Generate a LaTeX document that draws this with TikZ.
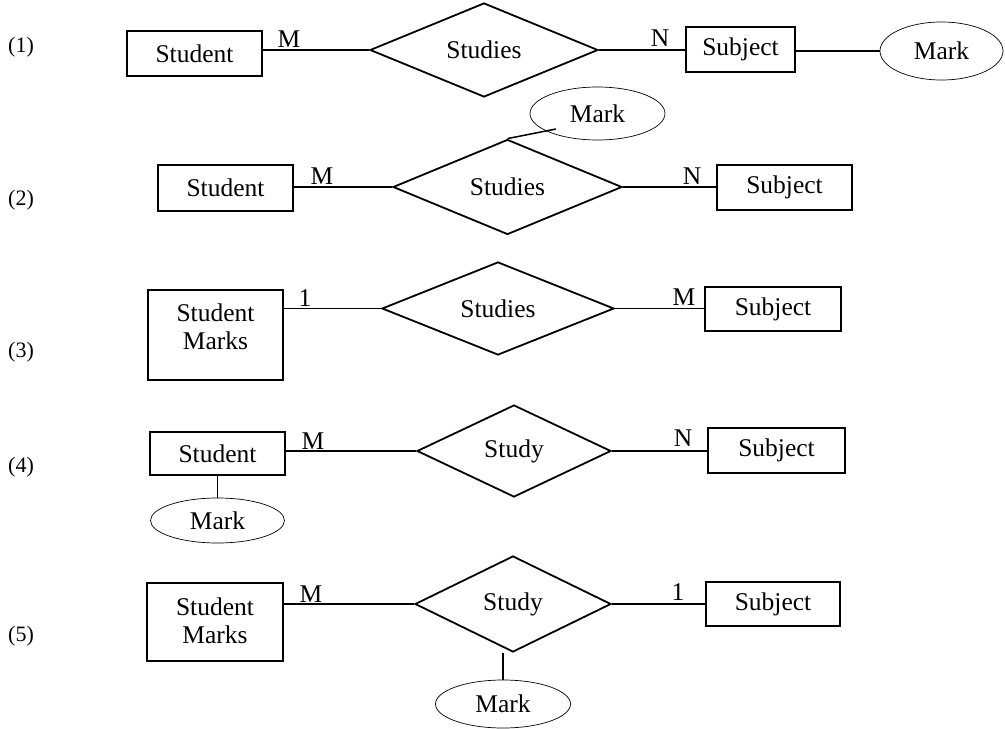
\documentclass[tikz,border=0pt]{standalone}
\usepackage{fontspec}
\setmainfont{Liberation Serif}
\usetikzlibrary{shapes.geometric}
\begin{document}
\begin{tikzpicture}[x=1bp,y=-1bp,
 every node/.style={font=\fontsize{25.5bp}{28bp}\selectfont},
 ent/.style={draw, line width=1.8bp, inner sep=0},
 rel/.style={draw, diamond, line width=1.8bp, inner sep=0},
 attr/.style={draw, ellipse, line width=0.7bp, inner sep=0},
 conn/.style={line width=1.5bp},
 card/.style={inner sep=0},
 num/.style={inner sep=0, font=\fontsize{22bp}{24bp}\selectfont}]
\useasboundingbox (0,0) rectangle (1005,729);

% ---- row 1
\node[num] (n1) at (21,47) {(1)};
\node[ent, minimum width=135bp, minimum height=45bp] (st1) at (194.5,53.5) {Student};
\node[rel, minimum width=228bp, minimum height=94bp] (d1) at (484,50) {Studies};
\node[ent, minimum width=109bp, minimum height=45bp] (su1) at (740.5,49.5) {Subject};
\node[attr, minimum width=123bp, minimum height=58bp] (m1) at (941.5,51) {Mark};
\draw[conn] (st1.east |- d1.west) -- (d1.west);
\draw[conn] (d1.east) -- (su1.west |- d1.east);
\draw[conn] (su1.east |- m1.west) -- (m1.west);
\node[card] (c1a) at (289,39) {M};
\node[card] (c1b) at (660,38) {N};

% ---- row 2
\node[num] (n2) at (21,200) {(2)};
\node[ent, minimum width=135bp, minimum height=46bp] (st2) at (225.5,188) {Student};
\node[rel, minimum width=229bp, minimum height=95bp] (d2) at (507.5,187) {Studies};
\node[ent, minimum width=135bp, minimum height=45bp] (su2) at (784.5,187.5) {Subject};
\node[attr, minimum width=135bp, minimum height=53bp] (m2) at (597.5,113.5) {Mark};
\coordinate (m2a) at (556,129);
\draw[conn] (st2.east |- d2.west) -- (d2.west);
\draw[conn] (d2.east) -- (su2.west |- d2.east);
\draw[conn] (d2.north) -- (m2a);
\node[card] (c2a) at (322,176) {M};
\node[card] (c2b) at (692,176) {N};

% ---- row 3
\node[num] (n3) at (21,352) {(3)};
\node[ent, minimum width=135bp, minimum height=90bp] (e3) at (215.5,335) {};
\node[align=center, inner sep=0] (e3t) at (215.5,327) {Student\\Marks};
\node[rel, minimum width=232bp, minimum height=91bp] (d3) at (498,308.5) {Studies};
\node[ent, minimum width=136bp, minimum height=44bp] (su3) at (773,309) {Subject};
\draw[conn] (e3.east |- d3.west) -- (d3.west);
\draw[conn] (d3.east) -- (su3.west |- d3.east);
\node[card] (c3a) at (305,298) {1};
\node[card] (c3b) at (684,297) {M};

% ---- row 4
\node[num] (n4) at (21,467) {(4)};
\node[ent, minimum width=135bp, minimum height=43bp] (st4) at (217.5,453.5) {Student};
\node[rel, minimum width=194bp, minimum height=92bp] (d4) at (514,451) {Study};
\node[ent, minimum width=137bp, minimum height=45bp] (su4) at (776.5,450.5) {Subject};
\node[attr, minimum width=134bp, minimum height=45bp] (m4) at (217.5,520.5) {Mark};
\draw[conn] (st4.east |- d4.west) -- (d4.west);
\draw[conn] (d4.east) -- (su4.west |- d4.east);
\draw[conn] (st4.south) -- (m4.north);
\node[card] (c4a) at (313,441) {M};
\node[card] (c4b) at (683,438) {N};

% ---- row 5
\node[num] (n5) at (21,636) {(5)};
\node[ent, minimum width=136bp, minimum height=78bp] (e5) at (215,622) {};
\node[align=center, inner sep=0] (e5t) at (215,621) {Student\\Marks};
\node[rel, minimum width=196bp, minimum height=96bp] (d5) at (513,604) {Study};
\node[ent, minimum width=134bp, minimum height=44bp] (su5) at (773,604) {Subject};
\node[attr, minimum width=135bp, minimum height=48bp] (m5) at (503,704) {Mark};
\draw[conn] (e5.east |- d5.west) -- (d5.west);
\draw[conn] (d5.east) -- (su5.west |- d5.east);
\draw[conn] (m5.north) -- (m5.north |- d5.south);
\node[card] (c5a) at (311,594) {M};
\node[card] (c5b) at (678,592) {1};
\end{tikzpicture}
\end{document}
